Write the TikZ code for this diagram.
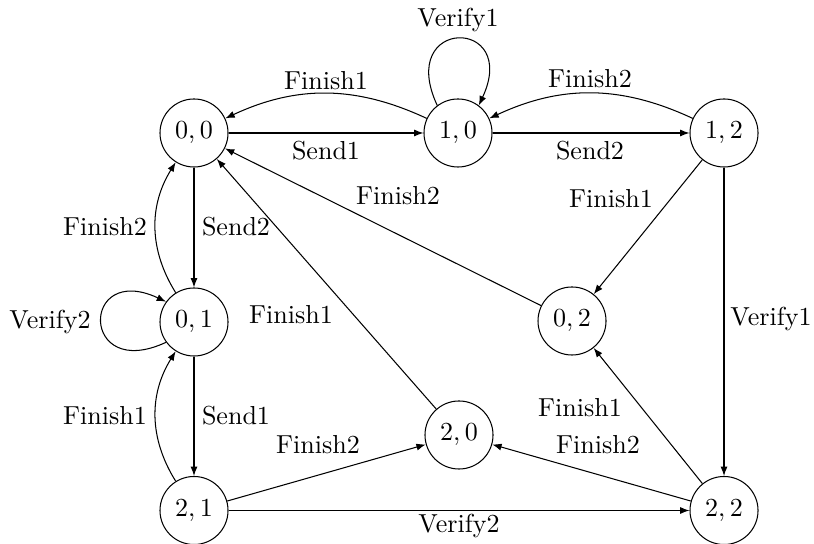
\documentclass[tikz,border=0pt]{standalone}
\usetikzlibrary{arrows.meta}
\begin{document}
\begin{tikzpicture}[x=0.01351cm,y=0.01351cm,
  state/.style={circle,draw,line width=0.4pt,minimum size=0.9187cm,inner sep=0pt},
  arr/.style={-{Latex[length=3.6pt,width=2.7pt]},line width=0.4pt},
  lab/.style={anchor=base,inner sep=0pt}]
\useasboundingbox (0,0) rectangle (814,544);
% states
\node[state] (n00) at (194,411)   {$0,0$};
\node[state] (n10) at (458,411)   {$1,0$};
\node[state] (n12) at (724,411)   {$1,2$};
\node[state] (n01) at (194,222)   {$0,1$};
\node[state] (n02) at (572,223)   {$0,2$};
\node[state] (n21) at (194,33.5)  {$2,1$};
\node[state] (n20) at (459,109)   {$2,0$};
\node[state] (n22) at (724,33.5)  {$2,2$};
% transitions
\draw[arr] (n00) -- (n10);
\draw[arr] (n10) to[bend right=25] (n00);
\draw[arr] (n10.127) .. controls +(115:98) and +(65:98) .. (n10.53);
\draw[arr] (n12) to[bend right=25] (n10);
\draw[arr] (n10) -- (n12);
\draw[arr] (n12) -- (n02);
\draw[arr] (n12) -- (n22);
\draw[arr] (n02) -- (n00);
\draw[arr] (n00) -- (n01);
\draw[arr] (n01) to[bend left=32] (n00);
\draw[arr] (n01.216) .. controls +(205:95) and +(155:95) .. (n01.144);
\draw[arr] (n01) -- (n21);
\draw[arr] (n21) to[bend left=32] (n01);
\draw[arr] (n21) -- (n20);
\draw[arr] (n21) -- (n22);
\draw[arr] (n20) -- (n00);
\draw[arr] (n22) -- (n20);
\draw[arr] (n22) -- (n02);
% labels
\node[lab] (l1)  at (458,517) {Verify1};
\node[lab] (l2)  at (326,454) {Finish1};
\node[lab] (l3)  at (590,456) {Finish2};
\node[lab] (l4)  at (326,384) {Send1};
\node[lab] (l5)  at (590,384) {Send2};
\node[lab] (l6)  at (398,339) {Finish2};
\node[lab] (l7)  at (611,336) {Finish1};
\node[lab] (l8)  at (105,308) {Finish2};
\node[lab] (l9)  at (236,308) {Send2};
\node[lab] (l10) at (291,220) {Finish1};
\node[lab] (l11) at (50,215)  {Verify2};
\node[lab] (l12) at (771,218) {Verify1};
\node[lab] (l13) at (105,119) {Finish1};
\node[lab] (l14) at (236,119) {Send1};
\node[lab] (l15) at (580,127) {Finish1};
\node[lab] (l16) at (318,90)  {Finish2};
\node[lab] (l17) at (598,90)  {Finish2};
\node[lab] (l18) at (459,11)  {Verify2};
\end{tikzpicture}
\end{document}
